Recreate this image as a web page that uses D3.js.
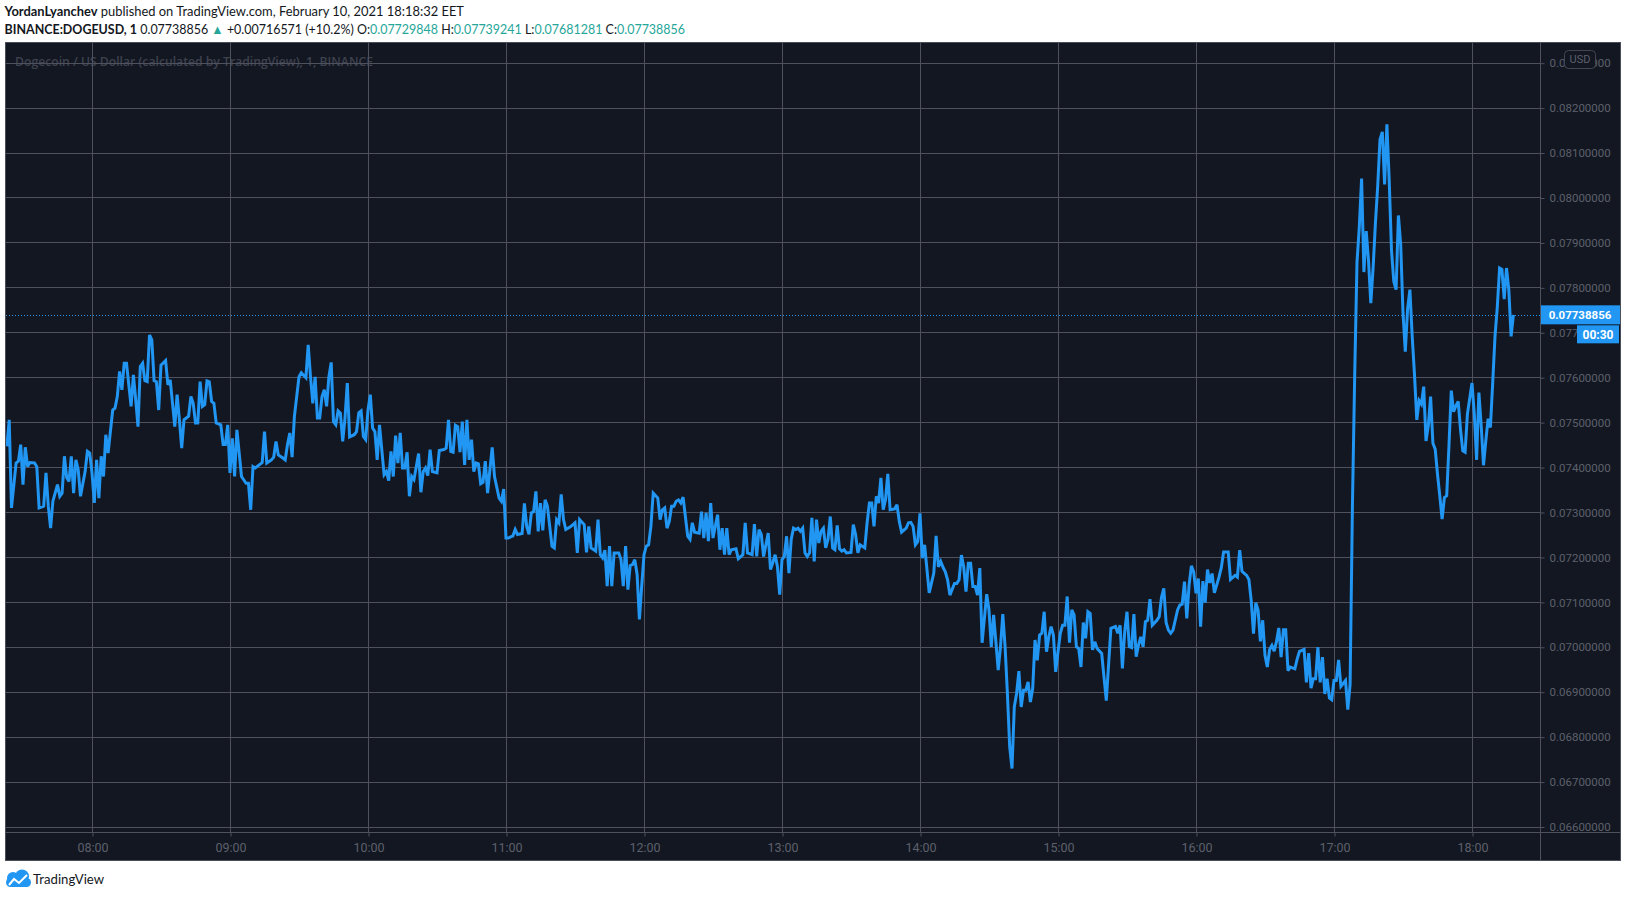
<!DOCTYPE html>
<html>
<head>
<meta charset="utf-8">
<script src="https://cdn.jsdelivr.net/npm/d3@7"></script>
<style>
    body { margin: 0; background: #ffffff; }
    svg { display: block; }
</style>
</head>
<body>
<svg id="chart"></svg>
<script>
// DOGEUSD 1-minute closes, [minute of day, price]
const dogeCloses = [
    [443, 0.07446], [444, 0.07505], [445, 0.07309], [447, 0.07409], [448, 0.07413], [449, 0.07450], [450, 0.07361],
    [451, 0.07444], [452, 0.07401], [453, 0.07410], [455, 0.07409], [456, 0.07401], [457, 0.07309], [459, 0.07313],
    [460, 0.07387], [461, 0.07313], [462, 0.07264], [463, 0.07324], [465, 0.07361], [466, 0.07335], [467, 0.07342],
    [468, 0.07424], [469, 0.07376], [470, 0.07368], [471, 0.07424], [472, 0.07342], [473, 0.07416], [474, 0.07394],
    [475, 0.07335], [477, 0.07390], [478, 0.07435], [479, 0.07431], [480, 0.07387], [481, 0.07320], [482, 0.07416],
    [483, 0.07331], [484, 0.07424], [485, 0.07379], [486, 0.07472], [487, 0.07431], [489, 0.07527], [490, 0.07531],
    [491, 0.07557], [492, 0.07613], [493, 0.07572], [494, 0.07631], [495, 0.07631], [497, 0.07535], [498, 0.07605],
    [499, 0.07550], [500, 0.07490], [501, 0.07624], [502, 0.07631], [503, 0.07592], [504, 0.07590], [505, 0.07694],
    [506, 0.07683], [507, 0.07592], [508, 0.07590], [509, 0.07527], [510, 0.07627], [512, 0.07637], [513, 0.07583],
    [514, 0.07594], [516, 0.07490], [517, 0.07561], [518, 0.07505], [519, 0.07442], [520, 0.07505], [522, 0.07513],
    [523, 0.07557], [524, 0.07542], [525, 0.07498], [526, 0.07498], [527, 0.07590], [528, 0.07535], [529, 0.07539],
    [530, 0.07592], [531, 0.07590], [532, 0.07546], [533, 0.07542], [534, 0.07498], [536, 0.07494], [537, 0.07450],
    [538, 0.07450], [539, 0.07494], [540, 0.07387], [541, 0.07464], [542, 0.07379], [543, 0.07483], [545, 0.07379],
    [547, 0.07364], [548, 0.07364], [549, 0.07305], [550, 0.07401], [551, 0.07398], [554, 0.07410], [555, 0.07479],
    [556, 0.07409], [558, 0.07416], [559, 0.07422], [560, 0.07457], [561, 0.07427], [563, 0.07420], [564, 0.07416],
    [565, 0.07450], [566, 0.07476], [567, 0.07422], [568, 0.07513], [570, 0.07601], [571, 0.07610], [573, 0.07599],
    [574, 0.07672], [575, 0.07601], [576, 0.07542], [577, 0.07601], [578, 0.07509], [579, 0.07509], [580, 0.07557],
    [581, 0.07572], [582, 0.07535], [583, 0.07601], [584, 0.07633], [585, 0.07501], [586, 0.07494], [587, 0.07525],
    [588, 0.07520], [589, 0.07457], [590, 0.07509], [591, 0.07587], [592, 0.07467], [594, 0.07472], [595, 0.07479],
    [596, 0.07521], [597, 0.07525], [598, 0.07468], [599, 0.07461], [600, 0.07527], [601, 0.07561], [602, 0.07487],
    [603, 0.07479], [604, 0.07416], [605, 0.07494], [607, 0.07383], [608, 0.07390], [609, 0.07370], [610, 0.07435],
    [611, 0.07379], [612, 0.07470], [613, 0.07409], [614, 0.07476], [615, 0.07398], [616, 0.07398], [617, 0.07433],
    [618, 0.07335], [619, 0.07379], [620, 0.07372], [622, 0.07430], [623, 0.07344], [624, 0.07390], [625, 0.07398],
    [626, 0.07381], [627, 0.07439], [628, 0.07390], [630, 0.07387], [631, 0.07437], [633, 0.07439], [634, 0.07442],
    [635, 0.07505], [636, 0.07435], [637, 0.07433], [638, 0.07493], [639, 0.07490], [640, 0.07433], [641, 0.07501],
    [642, 0.07405], [643, 0.07505], [644, 0.07416], [645, 0.07461], [646, 0.07390], [647, 0.07409], [648, 0.07407],
    [649, 0.07363], [650, 0.07366], [651, 0.07413], [652, 0.07342], [653, 0.07394], [654, 0.07444], [655, 0.07379],
    [657, 0.07331], [658, 0.07324], [659, 0.07351], [660, 0.07242], [661, 0.07242], [663, 0.07247], [664, 0.07261],
    [665, 0.07250], [667, 0.07252], [668, 0.07319], [669, 0.07268], [670, 0.07250], [671, 0.07298], [672, 0.07301],
    [673, 0.07346], [674, 0.07257], [675, 0.07320], [676, 0.07259], [677, 0.07327], [678, 0.07313], [680, 0.07224],
    [681, 0.07220], [682, 0.07283], [683, 0.07276], [684, 0.07339], [685, 0.07283], [686, 0.07261], [688, 0.07267],
    [690, 0.07276], [691, 0.07209], [692, 0.07283], [694, 0.07272], [695, 0.07210], [696, 0.07268], [697, 0.07220],
    [699, 0.07213], [700, 0.07283], [701, 0.07205], [702, 0.07198], [703, 0.07215], [704, 0.07135], [705, 0.07224],
    [706, 0.07135], [707, 0.07209], [709, 0.07209], [710, 0.07194], [711, 0.07135], [712, 0.07224], [713, 0.07127],
    [714, 0.07181], [715, 0.07183], [716, 0.07194], [717, 0.07161], [718, 0.07061], [719, 0.07135], [720, 0.07205],
    [721, 0.07224], [722, 0.07227], [723, 0.07268], [724, 0.07342], [726, 0.07331], [727, 0.07283], [728, 0.07305],
    [729, 0.07309], [730, 0.07264], [731, 0.07279], [732, 0.07313], [733, 0.07313], [734, 0.07324], [735, 0.07327],
    [736, 0.07320], [737, 0.07333], [739, 0.07246], [740, 0.07239], [741, 0.07276], [742, 0.07255], [744, 0.07253],
    [745, 0.07301], [746, 0.07242], [747, 0.07298], [748, 0.07235], [749, 0.07320], [750, 0.07242], [751, 0.07268],
    [752, 0.07294], [753, 0.07216], [754, 0.07264], [755, 0.07205], [756, 0.07264], [757, 0.07205], [758, 0.07216],
    [760, 0.07218], [761, 0.07196], [763, 0.07205], [764, 0.07276], [765, 0.07209], [767, 0.07205], [768, 0.07273],
    [769, 0.07201], [770, 0.07261], [771, 0.07250], [772, 0.07201], [774, 0.07253], [775, 0.07172], [776, 0.07187],
    [777, 0.07205], [778, 0.07179], [779, 0.07116], [780, 0.07194], [781, 0.07201], [782, 0.07246], [783, 0.07164],
    [784, 0.07239], [785, 0.07264], [786, 0.07261], [787, 0.07264], [788, 0.07257], [789, 0.07264], [790, 0.07209],
    [791, 0.07201], [792, 0.07209], [793, 0.07287], [794, 0.07190], [795, 0.07283], [796, 0.07231], [797, 0.07257],
    [798, 0.07264], [799, 0.07220], [800, 0.07239], [801, 0.07290], [802, 0.07220], [803, 0.07216], [804, 0.07270],
    [805, 0.07218], [806, 0.07213], [807, 0.07216], [808, 0.07209], [810, 0.07210], [811, 0.07272], [812, 0.07250],
    [813, 0.07209], [814, 0.07227], [816, 0.07220], [817, 0.07276], [818, 0.07320], [819, 0.07320], [820, 0.07268],
    [821, 0.07335], [822, 0.07320], [823, 0.07376], [824, 0.07305], [825, 0.07327], [826, 0.07385], [827, 0.07305],
    [829, 0.07307], [830, 0.07316], [831, 0.07279], [832, 0.07255], [834, 0.07264], [835, 0.07276], [836, 0.07277],
    [837, 0.07268], [838, 0.07227], [839, 0.07234], [840, 0.07297], [841, 0.07197], [842, 0.07227], [844, 0.07120],
    [846, 0.07164], [847, 0.07247], [848, 0.07178], [849, 0.07190], [850, 0.07177], [851, 0.07167], [852, 0.07149],
    [853, 0.07115], [855, 0.07141], [856, 0.07141], [857, 0.07149], [858, 0.07204], [859, 0.07178], [860, 0.07123],
    [861, 0.07186], [862, 0.07186], [863, 0.07134], [864, 0.07134], [865, 0.07115], [866, 0.07175], [867, 0.07009],
    [869, 0.07117], [870, 0.07082], [871, 0.07000], [872, 0.07071], [873, 0.07011], [874, 0.06948], [875, 0.07000],
    [876, 0.07073], [877, 0.07000], [878, 0.06896], [879, 0.06777], [880, 0.06729], [881, 0.06866], [882, 0.06896],
    [883, 0.06946], [884, 0.06866], [885, 0.06903], [886, 0.06903], [887, 0.06922], [888, 0.06877], [889, 0.06907],
    [890, 0.07015], [891, 0.06970], [892, 0.07026], [893, 0.07030], [894, 0.07078], [895, 0.06989], [896, 0.07022],
    [897, 0.07045], [898, 0.07026], [899, 0.06944], [900, 0.06989], [901, 0.07030], [902, 0.07048], [903, 0.07048],
    [904, 0.07112], [905, 0.07009], [906, 0.07082], [907, 0.07071], [908, 0.07000], [909, 0.06996], [910, 0.06955],
    [911, 0.07054], [912, 0.07019], [913, 0.07078], [914, 0.07074], [915, 0.06993], [916, 0.07011], [917, 0.06996],
    [919, 0.06985], [921, 0.06880], [923, 0.07041], [925, 0.07045], [926, 0.07030], [927, 0.07048], [928, 0.06952],
    [929, 0.07033], [930, 0.07078], [931, 0.07000], [932, 0.06998], [933, 0.07073], [934, 0.06978], [935, 0.07004],
    [936, 0.07022], [937, 0.07000], [938, 0.07056], [939, 0.07059], [940, 0.07106], [941, 0.07048], [943, 0.07059],
    [944, 0.07067], [945, 0.07110], [946, 0.07130], [947, 0.07054], [948, 0.07037], [949, 0.07030], [950, 0.07037],
    [952, 0.07082], [953, 0.07093], [954, 0.07095], [955, 0.07145], [956, 0.07063], [957, 0.07138], [958, 0.07180],
    [959, 0.07167], [960, 0.07119], [961, 0.07152], [962, 0.07045], [963, 0.07146], [964, 0.07098], [965, 0.07172],
    [966, 0.07142], [967, 0.07163], [968, 0.07120], [970, 0.07155], [971, 0.07176], [972, 0.07211], [974, 0.07211],
    [975, 0.07150], [977, 0.07159], [978, 0.07155], [979, 0.07215], [980, 0.07168], [982, 0.07159], [983, 0.07150],
    [984, 0.07103], [985, 0.07029], [986, 0.07098], [987, 0.07081], [988, 0.07012], [989, 0.07059], [990, 0.06981],
    [991, 0.06955], [992, 0.06994], [993, 0.07003], [994, 0.06990], [995, 0.07012], [996, 0.07042], [997, 0.06977],
    [998, 0.07038], [999, 0.07038], [1000, 0.06947], [1001, 0.06955], [1003, 0.06951], [1004, 0.06973], [1005, 0.06990],
    [1007, 0.06994], [1008, 0.06921], [1009, 0.06986], [1010, 0.06908], [1011, 0.06929], [1012, 0.06929], [1013, 0.06999],
    [1014, 0.06921], [1015, 0.06977], [1016, 0.06895], [1017, 0.06929], [1018, 0.06886], [1019, 0.06882], [1020, 0.06925],
    [1021, 0.06925], [1022, 0.06971], [1023, 0.06912], [1025, 0.06925], [1026, 0.06860], [1027, 0.06916], [1028, 0.07310],
    [1029, 0.07605], [1030, 0.07856], [1031, 0.07934], [1032, 0.08042], [1033, 0.07834], [1034, 0.07925], [1035, 0.07860],
    [1036, 0.07765], [1037, 0.07843], [1038, 0.07942], [1039, 0.08025], [1040, 0.08129], [1041, 0.08146], [1042, 0.08029],
    [1043, 0.08163], [1044, 0.08038], [1045, 0.07882], [1046, 0.07813], [1047, 0.07795], [1048, 0.07960], [1049, 0.07895],
    [1050, 0.07743], [1051, 0.07657], [1052, 0.07752], [1053, 0.07795], [1054, 0.07691], [1055, 0.07605], [1056, 0.07505],
    [1057, 0.07548], [1058, 0.07540], [1059, 0.07579], [1060, 0.07458], [1061, 0.07492], [1062, 0.07557], [1063, 0.07453],
    [1064, 0.07440], [1065, 0.07384], [1066, 0.07336], [1067, 0.07284], [1068, 0.07332], [1069, 0.07336], [1070, 0.07449],
    [1071, 0.07570], [1072, 0.07523], [1073, 0.07536], [1074, 0.07546], [1075, 0.07484], [1076, 0.07436], [1077, 0.07433],
    [1078, 0.07518], [1080, 0.07587], [1081, 0.07518], [1082, 0.07416], [1083, 0.07566], [1084, 0.07492], [1085, 0.07404],
    [1086, 0.07458], [1087, 0.07508], [1088, 0.07488], [1089, 0.07587], [1090, 0.07691], [1091, 0.07756], [1092, 0.07843],
    [1093, 0.07840], [1094, 0.07774], [1095, 0.07843], [1096, 0.07795], [1097, 0.07691], [1098, 0.07738856]
];

const priceTicks = [0.066, 0.067, 0.068, 0.069, 0.070, 0.071, 0.072, 0.073, 0.074,
    0.075, 0.076, 0.077, 0.078, 0.079, 0.080, 0.081, 0.082, 0.083];
const timeTicks = ["08:00", "09:00", "10:00", "11:00", "12:00", "13:00",
    "14:00", "15:00", "16:00", "17:00", "18:00"];

const lastPrice = 0.07738856;
const countdown = "00:30";
const publishLine = ["YordanLyanchev", " published on TradingView.com, February 10, 2021 18:18:32 EET"];
const quoteParts = [
    ["BINANCE:DOGEUSD, 1", "#131722", 700],
    [" 0.07738856 ", "#131722", 400],
    ["\u25B2", "#26a69a", 400],
    [" +0.00716571 (+10.2%) ", "#131722", 400],
    ["O:", "#131722", 400], ["0.07729848", "#26a69a", 400],
    [" H:", "#131722", 400], ["0.07739241", "#26a69a", 400],
    [" L:", "#131722", 400], ["0.07681281", "#26a69a", 400],
    [" C:", "#131722", 400], ["0.07738856", "#26a69a", 400]
];
const watermark = "Dogecoin / US Dollar (calculated by TradingView), 1, BINANCE";

let dogeChart = function (options) {
    let self = {};

    for (let key in options) {
        self[key] = options[key];
    }

    self.bg = "#131722";
    self.grid = "#4f525e";
    self.axisText = "#5d606b";
    self.blue = "#2196f3";

    // panel box and axis dividers
    self.panel = { left: 6, top: 43, right: 1620, bottom: 860, axisX: 1540, axisY: 832 };

    self.parseTime = function (s) {
        let p = s.split(":");
        return +p[0] * 60 + +p[1];
    };

    self.init = function () {
        self.svg = d3.select(self.parent_select)
            .attr("width", self.width)
            .attr("height", self.height);

        self.svg.selectAll("*").remove();

        self.x = d3.scaleLinear().domain([480, 1080]).range([92, 1472]);
        self.y = d3.scaleLinear().domain([0.066, 0.083]).range([826.5, 62.7]);
    };

    self.renderHeader = function () {
        let t1 = self.svg.append("text")
            .attr("x", 4.5).attr("y", 16)
            .attr("font-family", "Lato, 'Open Sans', sans-serif")
            .attr("font-size", "13px")
            .attr("fill", "#131722")
            .attr("textLength", 459.5)
            .attr("lengthAdjust", "spacingAndGlyphs");
        t1.append("tspan").attr("font-weight", 700).text(publishLine[0]);
        t1.append("tspan").text(publishLine[1]);

        let t2 = self.svg.append("text")
            .attr("x", 4.5).attr("y", 33.5)
            .attr("font-family", "Lato, 'Open Sans', sans-serif")
            .attr("font-size", "13px")
            .attr("textLength", 680.5)
            .attr("lengthAdjust", "spacingAndGlyphs")
            .style("white-space", "pre");
        t2.selectAll("tspan")
            .data(quoteParts)
            .enter()
            .append("tspan")
            .attr("fill", d => d[1])
            .attr("font-weight", d => d[2])
            .text(d => d[0]);
    };

    self.renderPanel = function () {
        let p = self.panel;
        self.svg.append("rect")
            .attr("x", p.left - 0.5).attr("y", p.top - 0.5)
            .attr("width", p.right - p.left + 1).attr("height", p.bottom - p.top + 1)
            .attr("fill", self.bg)
            .attr("stroke", "#4a4e5a");

        self.svg.append("text")
            .attr("x", 15).attr("y", 66)
            .attr("font-family", "'Open Sans', sans-serif")
            .attr("font-size", "13px")
            .attr("font-weight", 600)
            .attr("fill", "#3e424e")
            .attr("textLength", 358)
            .attr("lengthAdjust", "spacingAndGlyphs")
            .text(watermark);

        // horizontal grid
        self.svg.append("g")
            .selectAll("line")
            .data(priceTicks)
            .enter()
            .append("line")
            .attr("x1", p.left).attr("x2", p.axisX)
            .attr("y1", d => Math.round(self.y(d)) + 0.5)
            .attr("y2", d => Math.round(self.y(d)) + 0.5)
            .attr("stroke", self.grid);

        // vertical grid
        self.svg.append("g")
            .selectAll("line")
            .data(timeTicks)
            .enter()
            .append("line")
            .attr("x1", d => Math.round(self.x(self.parseTime(d))) + 0.5)
            .attr("x2", d => Math.round(self.x(self.parseTime(d))) + 0.5)
            .attr("y1", p.top).attr("y2", p.axisY)
            .attr("stroke", self.grid);

        // axis dividers
        self.svg.append("line")
            .attr("x1", p.axisX + 0.5).attr("x2", p.axisX + 0.5)
            .attr("y1", p.top).attr("y2", p.bottom)
            .attr("stroke", self.grid);
        self.svg.append("line")
            .attr("x1", p.left).attr("x2", p.right)
            .attr("y1", p.axisY + 0.5).attr("y2", p.axisY + 0.5)
            .attr("stroke", self.grid);
    };

    self.renderAxes = function () {
        let p = self.panel;
        let yAxis = d3.axisRight(self.y)
            .tickValues(priceTicks)
            .tickFormat(d3.format(".8f"))
            .tickSize(4)
            .tickPadding(5);

        let gy = self.svg.append("g")
            .attr("transform", "translate(" + (p.axisX + 0.5) + ",0.5)")
            .call(yAxis);
        gy.select(".domain").remove();
        gy.selectAll(".tick line").attr("stroke", self.grid);
        gy.selectAll(".tick text")
            .attr("fill", self.axisText)
            .attr("font-family", "Roboto, sans-serif")
            .attr("font-size", "11.5px");

        let timeScale = d3.scaleLinear().domain(self.x.domain()).range(self.x.range());
        let xAxis = d3.axisBottom(timeScale)
            .tickValues(timeTicks.map(self.parseTime))
            .tickFormat((d, i) => timeTicks[i])
            .tickSize(4);

        let gx = self.svg.append("g")
            .attr("transform", "translate(0.5," + (p.axisY + 0.5) + ")")
            .call(xAxis);
        gx.select(".domain").remove();
        gx.selectAll(".tick line").attr("stroke", self.grid);
        gx.selectAll(".tick text")
            .attr("y", 15)
            .attr("dy", "0.35em")
            .attr("fill", self.axisText)
            .attr("font-family", "Roboto, sans-serif")
            .attr("font-size", "12.5px");
    };

    self.renderLine = function () {
        let p = self.panel;
        self.svg.append("clipPath")
            .attr("id", "plot-clip")
            .append("rect")
            .attr("x", p.left).attr("y", p.top)
            .attr("width", p.axisX - p.left).attr("height", p.axisY - p.top);

        let line = d3.line()
            .x(d => self.x(d[0]))
            .y(d => self.y(d[1]));

        // last price dotted line
        self.svg.append("line")
            .attr("x1", p.left).attr("x2", p.axisX)
            .attr("y1", Math.round(self.y(lastPrice)) + 0.5)
            .attr("y2", Math.round(self.y(lastPrice)) + 0.5)
            .attr("stroke", self.blue)
            .attr("stroke-dasharray", "1,2");

        self.svg.append("path")
            .datum(dogeCloses)
            .attr("clip-path", "url(#plot-clip)")
            .attr("d", line)
            .attr("fill", "none")
            .attr("stroke", self.blue)
            .attr("stroke-width", 3)
            .attr("stroke-linejoin", "miter")
            .attr("stroke-miterlimit", 3);
    };

    self.renderBadges = function () {
        let p = self.panel;
        let yl = self.y(lastPrice);

        self.svg.append("rect")
            .attr("x", p.axisX + 1).attr("y", yl - 9.5)
            .attr("width", p.right - p.axisX - 1).attr("height", 19)
            .attr("fill", self.blue);
        self.svg.append("text")
            .attr("x", (p.axisX + p.right) / 2).attr("y", yl)
            .attr("dy", "0.35em")
            .attr("text-anchor", "middle")
            .attr("font-family", "Roboto, sans-serif")
            .attr("font-size", "11.5px")
            .attr("font-weight", 700)
            .attr("fill", "#ffffff")
            .text(d3.format(".8f")(lastPrice));

        self.svg.append("rect")
            .attr("x", 1577).attr("y", yl + 10.5)
            .attr("width", 42).attr("height", 18)
            .attr("fill", self.blue);
        self.svg.append("text")
            .attr("x", 1598).attr("y", yl + 19.5)
            .attr("dy", "0.35em")
            .attr("text-anchor", "middle")
            .attr("font-family", "Roboto, sans-serif")
            .attr("font-size", "12px")
            .attr("font-weight", 700)
            .attr("fill", "#ffffff")
            .text(countdown);

        // currency tag
        self.svg.append("rect")
            .attr("x", 1564.5).attr("y", 50.5)
            .attr("width", 31).attr("height", 18)
            .attr("rx", 4)
            .attr("fill", self.bg)
            .attr("stroke", "#434651");
        self.svg.append("text")
            .attr("x", 1580).attr("y", 59.5)
            .attr("dy", "0.35em")
            .attr("text-anchor", "middle")
            .attr("font-family", "Roboto, sans-serif")
            .attr("font-size", "11px")
            .attr("fill", self.axisText)
            .text("USD");
    };

    self.renderLogo = function () {
        let g = self.svg.append("g");
        g.append("circle").attr("cx", 13).attr("cy", 878).attr("r", 6).attr("fill", self.blue);
        g.append("circle").attr("cx", 22).attr("cy", 876.5).attr("r", 7).attr("fill", self.blue);
        g.append("rect").attr("x", 6).attr("y", 878).attr("width", 25).attr("height", 9)
            .attr("rx", 4.5).attr("fill", self.blue);
        g.append("polyline")
            .attr("points", "9,885 14,879 19,883 27,875")
            .attr("fill", "none")
            .attr("stroke", "#ffffff")
            .attr("stroke-width", 2);

        self.svg.append("text")
            .attr("x", 33).attr("y", 883.5)
            .attr("font-family", "Lato, 'Open Sans', sans-serif")
            .attr("font-size", "13px")
            .attr("fill", "#131722")
            .attr("textLength", 71)
            .attr("lengthAdjust", "spacingAndGlyphs")
            .text("TradingView");
    };

    self.init();
    self.renderHeader();
    self.renderPanel();
    self.renderAxes();
    self.renderLine();
    self.renderBadges();
    self.renderLogo();
    return self;
};

dogeChart({ parent_id: "chart", parent_select: "#chart", width: 1627, height: 898 });
</script>
</body>
</html>
